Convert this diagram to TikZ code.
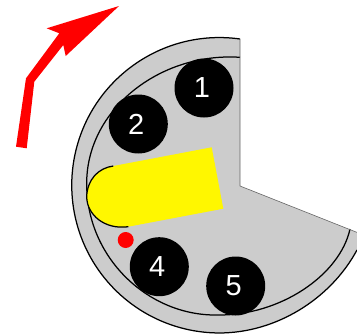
\documentclass[tikz,border=0pt]{standalone}
\usepackage{fontspec}
\setmainfont{Liberation Sans}
\usepackage{tikz}
\definecolor{discgrey}{HTML}{CCCCCC}
\definecolor{slideyellow}{HTML}{FFF700}
\begin{document}
\begin{tikzpicture}[
  x=1pt, y=-1pt,
  ball/.style  = {circle, fill=black, text=white, inner sep=0pt, minimum size=59pt, font=\fontsize{29}{29}\selectfont, execute at begin node=\hspace{-4pt}},
  pin/.style   = {circle, fill=red, inner sep=0pt, minimum size=16pt},
  rim/.style   = {draw=black, line width=1.25pt},
  pointer/.style = {fill=red, draw=none}
]
\useasboundingbox (0,0) rectangle (357,335);
%% disc
\fill[discgrey] (240,186) -- (240,39) arc[start angle=-82,delta angle=-188,radius=147.7]
  .. controls (275,333) and (330,300) .. (357,250) -- (357,232.4) -- cycle;
\draw[rim] (240,39) arc[start angle=-82,delta angle=-188,radius=147.7]
  .. controls (275,333) and (330,300) .. (357,250);
\draw[rim] (240,57.3) .. controls (160,52) and (85,110) .. (86.7,186)
   .. controls (88,260) and (150,316) .. (217,315) .. controls (280,316) and (340,275) .. (350,229);
\draw[black!60, line width=0.6pt] (240,39) -- (240,186) -- (357,232.4);
%% slider
\fill[slideyellow] (113.3,166) -- (211.7,147.3) -- (223.3,208.7) -- (128.3,226.7)
  .. controls (105,230) and (87,215) .. (86.7,197) .. controls (87,180) and (98,168) .. (113.3,166) -- cycle;
\draw[rim] (128.3,226.7) .. controls (105,230) and (87,215) .. (86.7,197) .. controls (87,180) and (98,168) .. (113.3,166);
%% balls
\node[ball] (one)   at (204,88)      {1};
\node[ball] (two)   at (138.3,124)   {2};
\node[ball] (four)  at (159.3,266.7) {4};
\node[ball] (five)  at (235.7,286)   {5};
\node[pin]  (mark)  at (125.7,240)   {};
%% direction
\fill[pointer] (16,146.7) -- (26.7,148.3) -- (34.3,81.7) -- (63.3,45) -- (65.7,56) -- (119,6) -- (46.7,28.3) -- (59.3,33.3) -- (26,78.3) -- cycle;
\end{tikzpicture}
\end{document}
